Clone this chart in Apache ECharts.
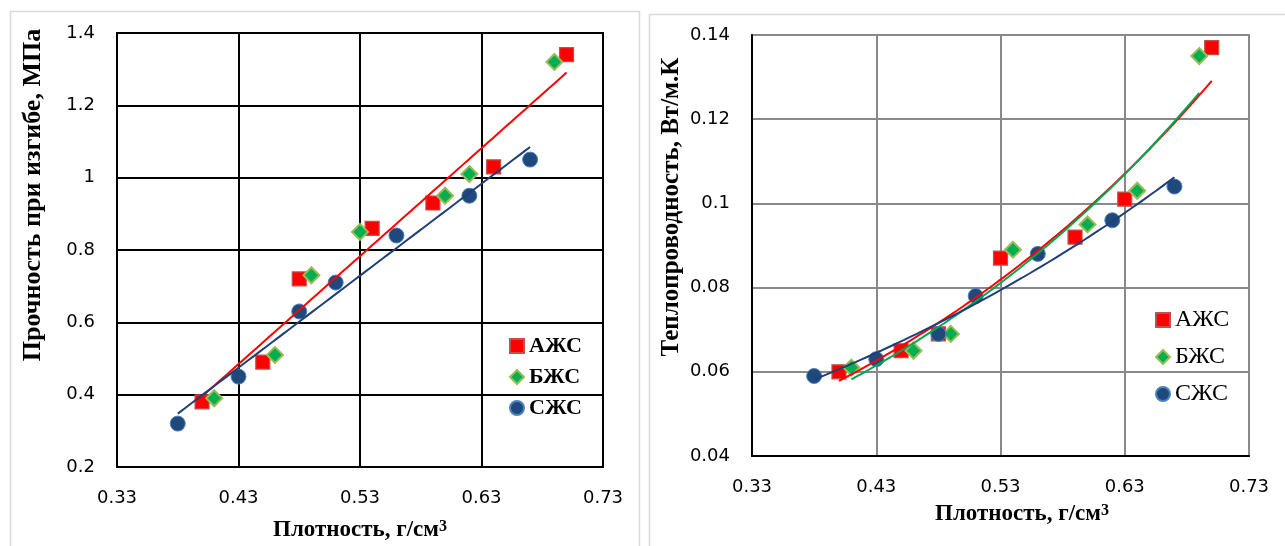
<!DOCTYPE html>
<html><head><meta charset="utf-8">
<script src="https://cdn.jsdelivr.net/npm/echarts@6/dist/echarts.min.js"></script>
<style>html,body{margin:0;padding:0;background:#fff}#c{width:1285px;height:546px}</style>
</head><body><div id="c"></div>
<script>
// ---- data ----
const seriesNames = ['АЖС', 'БЖС', 'СЖС'];
// left chart: strength (MPa) vs density
const strengthDensityA = [0.40, 0.45, 0.48, 0.54, 0.59, 0.64, 0.70];
const strengthValuesA  = [0.38, 0.49, 0.72, 0.86, 0.93, 1.03, 1.34];
const strengthDensityB = [0.41, 0.46, 0.49, 0.53, 0.60, 0.62, 0.69];
const strengthValuesB  = [0.39, 0.51, 0.73, 0.85, 0.95, 1.01, 1.32];
const strengthDensityC = [0.38, 0.43, 0.48, 0.51, 0.56, 0.62, 0.67];
const strengthValuesC  = [0.32, 0.45, 0.63, 0.71, 0.84, 0.95, 1.05];
// right chart: thermal conductivity vs density
const condDensityA = [0.40, 0.45, 0.48, 0.53, 0.59, 0.63, 0.70];
const condValuesA  = [0.060, 0.065, 0.069, 0.087, 0.092, 0.101, 0.137];
const condDensityB = [0.41, 0.46, 0.49, 0.54, 0.60, 0.64, 0.69];
const condValuesB  = [0.061, 0.065, 0.069, 0.089, 0.095, 0.103, 0.135];
const condDensityC = [0.38, 0.43, 0.48, 0.51, 0.56, 0.62, 0.67];
const condValuesC  = [0.059, 0.063, 0.069, 0.078, 0.088, 0.096, 0.104];
// axis ticks
const xTicks = [0.33, 0.43, 0.53, 0.63, 0.73];
const strengthTicks = [0.2, 0.4, 0.6, 0.8, 1.0, 1.2, 1.4];
const condTicks = [0.04, 0.06, 0.08, 0.10, 0.12, 0.14];

// ---- helpers ----
const pairs = (xs, ys) => xs.map((x, i) => [x, ys[i]]);
function linFit(xs, ys) {
  const n = xs.length, mx = xs.reduce((a, b) => a + b) / n, my = ys.reduce((a, b) => a + b) / n;
  let sxy = 0, sxx = 0;
  xs.forEach((x, i) => { sxy += (x - mx) * (ys[i] - my); sxx += (x - mx) * (x - mx); });
  const b = sxy / sxx; return x => my + b * (x - mx);
}
function expFit(xs, ys) {
  const f = linFit(xs, ys.map(Math.log)); return x => Math.exp(f(x));
}
function trend(xs, f) {
  const x0 = Math.min(...xs), x1 = Math.max(...xs), n = 60, out = [];
  for (let i = 0; i <= n; i++) { const x = x0 + (x1 - x0) * i / n; out.push([x, f(x)]); }
  return out;
}
const fmt2 = v => v.toFixed(2);
const fmtY = v => String(+v.toFixed(3));

const markerA = { symbol: 'rect', symbolSize: 14, itemStyle: { color: '#FF0000', borderColor: '#C0504D', borderWidth: 1.2, opacity: 1 } };
const markerB = { symbol: 'diamond', symbolSize: 16, itemStyle: { color: '#00B050', borderColor: '#9BBB59', borderWidth: 2, opacity: 1 } };
const markerC = { symbol: 'circle', symbolSize: 15, itemStyle: { color: '#1F497D', borderColor: '#4F81BD', borderWidth: 1, opacity: 1 } };

const tickFont = { fontFamily: 'DejaVu Sans', fontSize: 18, color: '#000' };

function xAxisCfg(grid, splitColor) {
  return {
    type: 'value', gridIndex: grid, min: xTicks[0], max: xTicks[xTicks.length - 1], interval: 0.1,
    axisLine: { show: grid === 1, lineStyle: { color: '#000', width: 2 } }, axisTick: { show: false },
    splitLine: { show: true, lineStyle: { color: splitColor, width: 2 } },
    axisLabel: Object.assign({ formatter: fmt2, margin: 22 }, tickFont)
  };
}
function yAxisCfg(grid, ticks, splitColor) {
  return {
    type: 'value', gridIndex: grid, min: ticks[0], max: ticks[ticks.length - 1],
    interval: +(ticks[1] - ticks[0]).toFixed(3),
    axisLine: { show: grid === 1, lineStyle: { color: '#000', width: 2 } }, axisTick: { show: false },
    splitLine: { show: true, lineStyle: { color: splitColor, width: 2 } },
    axisLabel: Object.assign({ formatter: fmtY, margin: 22 }, tickFont)
  };
}
function scatter(name, xi, data, marker) {
  return Object.assign({ type: 'scatter', name, xAxisIndex: xi, yAxisIndex: xi, data, z: 3 }, marker);
}
function line(name, xi, data, color) {
  return { type: 'line', name, xAxisIndex: xi, yAxisIndex: xi, data, showSymbol: false, symbol: 'none',
    lineStyle: { color, width: 2 }, z: 4, silent: true };
}
function xTitle(x, y) {
  return { type: 'text', x, y, style: {
    text: '{m|Плотность, г/см}{s|3}', textAlign: 'center', textVerticalAlign: 'middle', fill: '#000',
    rich: {
      m: { fontFamily: 'Liberation Serif', fontWeight: 'bold', fontSize: 23, fill: '#000', verticalAlign: 'bottom' },
      s: { fontFamily: 'Liberation Serif', fontWeight: 'bold', fontSize: 16, fill: '#000', verticalAlign: 'top' }
    } } };
}

const option = {
  animation: false,
  backgroundColor: '#fff',
  grid: [
    { left: 117, top: 33, width: 486, height: 434, show: true, borderColor: '#000', borderWidth: 2, backgroundColor: 'transparent' },
    { left: 752, top: 35, width: 497, height: 421, show: true, borderColor: '#898989', borderWidth: 2, backgroundColor: 'transparent' }
  ],
  xAxis: [xAxisCfg(0, '#000'), xAxisCfg(1, '#898989')],
  yAxis: [yAxisCfg(0, strengthTicks, '#000'), yAxisCfg(1, condTicks, '#898989')],
  legend: [
    { data: seriesNames, orient: 'vertical', left: 504, top: 330, itemWidth: 14, itemHeight: 14, itemGap: 9, selectedMode: false,
      textStyle: { fontFamily: 'Liberation Serif', fontWeight: 'bold', fontSize: 22, color: '#000' } },
    { data: seriesNames, orient: 'vertical', left: 1150, top: 303, itemWidth: 14, itemHeight: 14, itemGap: 13, selectedMode: false,
      textStyle: { fontFamily: 'Liberation Serif', fontSize: 24, color: '#000' } }
  ],
  graphic: [
    { type: 'rect', z: -10, shape: { x: 10.5, y: 11.5, width: 629, height: 600 }, style: { fill: 'none', stroke: '#d9d9d9', lineWidth: 1.5 } },
    { type: 'rect', z: -10, shape: { x: 649.5, y: 14.5, width: 700, height: 600 }, style: { fill: 'none', stroke: '#d9d9d9', lineWidth: 1.5 } },
    xTitle(360, 530),
    xTitle(1022, 514),
    { type: 'text', x: 33, y: 195, rotation: Math.PI / 2, style: { text: 'Прочность при изгибе, МПа', font: 'bold 26px "Liberation Serif"', fill: '#000', textAlign: 'center', textVerticalAlign: 'middle' } },
    { type: 'text', x: 672, y: 207, rotation: Math.PI / 2, style: { text: 'Теплопроводность, Вт/м.К', font: 'bold 25px "Liberation Serif"', fill: '#000', textAlign: 'center', textVerticalAlign: 'middle' } }
  ],
  series: [
    scatter(seriesNames[0], 0, pairs(strengthDensityA, strengthValuesA), markerA),
    scatter(seriesNames[1], 0, pairs(strengthDensityB, strengthValuesB), markerB),
    scatter(seriesNames[2], 0, pairs(strengthDensityC, strengthValuesC), markerC),
    line('АЖС trend', 0, trend(strengthDensityA, linFit(strengthDensityA, strengthValuesA)), '#FF0000'),
    line('СЖС trend', 0, trend(strengthDensityC, linFit(strengthDensityC, strengthValuesC)), '#1F3F77'),
    scatter(seriesNames[0], 1, pairs(condDensityA, condValuesA), markerA),
    scatter(seriesNames[1], 1, pairs(condDensityB, condValuesB), markerB),
    scatter(seriesNames[2], 1, pairs(condDensityC, condValuesC), markerC),
    line('АЖС trend 2', 1, trend(condDensityA, expFit(condDensityA, condValuesA)), '#FF0000'),
    line('БЖС trend 2', 1, trend(condDensityB, expFit(condDensityB, condValuesB)), '#00A650'),
    line('СЖС trend 2', 1, trend(condDensityC, expFit(condDensityC, condValuesC)), '#1F3F77')
  ]
};
const chart = echarts.init(document.getElementById('c'), null, { renderer: 'canvas' });
chart.setOption(option);
</script></body></html>
